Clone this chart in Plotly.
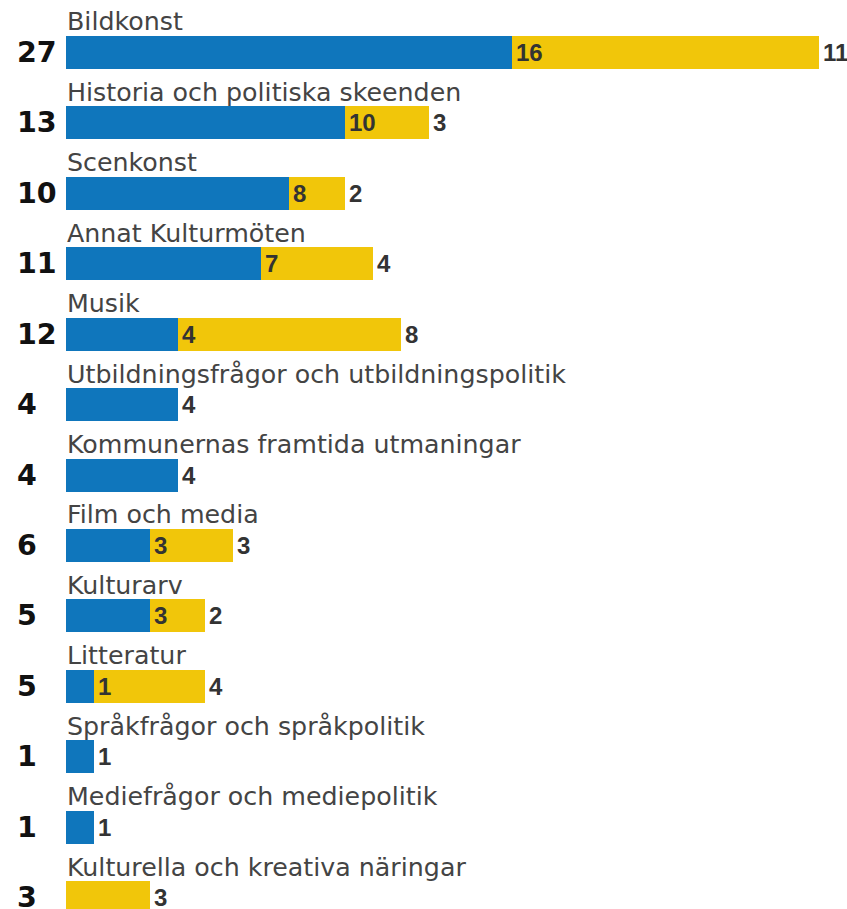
import plotly.graph_objects as go

categories = [
    "Bildkonst",
    "Historia och politiska skeenden",
    "Scenkonst",
    "Annat Kulturmöten",
    "Musik",
    "Utbildningsfrågor och utbildningspolitik",
    "Kommunernas framtida utmaningar",
    "Film och media",
    "Kulturarv",
    "Litteratur",
    "Språkfrågor och språkpolitik",
    "Mediefrågor och mediepolitik",
    "Kulturella och kreativa näringar",
]
blue_values = [16, 10, 8, 7, 4, 4, 4, 3, 3, 1, 1, 1, 0]
yellow_values = [11, 3, 2, 4, 8, 0, 0, 3, 2, 4, 0, 0, 3]

BLUE = "#0F76BC"
YELLOW = "#F1C60A"
FONT = "DejaVu Sans"
VAL_FONT = "Liberation Sans"

ypos = list(range(len(categories)))
totals = [b + y for b, y in zip(blue_values, yellow_values)]

fig = go.Figure()
fig.add_trace(go.Bar(y=ypos, x=blue_values, orientation="h", marker=dict(color=BLUE, line=dict(width=0)),
                     width=0.4686, hoverinfo="skip", showlegend=False))
fig.add_trace(go.Bar(y=ypos, x=yellow_values, orientation="h", marker=dict(color=YELLOW, line=dict(width=0)),
                     width=0.4686, hoverinfo="skip", showlegend=False))

annotations = []
for i, cat in enumerate(categories):
    # category label above bar
    annotations.append(dict(x=0, y=i - 0.435, xref="x", yref="y", text=cat, showarrow=False,
                            xanchor="left", yanchor="middle", xshift=-1,
                            font=dict(family=FONT, size=25.3, color="#444444")))
    # total on the left
    annotations.append(dict(x=0, y=i, xref="paper", yref="y", text=str(totals[i]), showarrow=False,
                            xanchor="left", yanchor="middle", xshift=-51,
                            font=dict(family=FONT, size=28.5, color="#111111", weight="bold")))
    if blue_values[i] > 0:
        annotations.append(dict(x=blue_values[i], y=i, xref="x", yref="y", text=str(blue_values[i]),
                                showarrow=False, xanchor="left", yanchor="middle", xshift=2,
                                font=dict(family=VAL_FONT, size=24, color="#333333", weight="bold")))
    if yellow_values[i] > 0:
        annotations.append(dict(x=totals[i], y=i, xref="x", yref="y", text=str(yellow_values[i]),
                                showarrow=False, xanchor="left", yanchor="middle", xshift=2,
                                font=dict(family=VAL_FONT, size=24, color="#333333", weight="bold")))

fig.update_layout(
    width=847, height=909,
    margin=dict(l=66, r=0, t=0, b=0, pad=0),
    barmode="stack", bargap=0,
    plot_bgcolor="white", paper_bgcolor="white",
    xaxis=dict(range=[0, 28.004], visible=False, fixedrange=True),
    yaxis=dict(range=[12.161, -0.7454], visible=False, fixedrange=True),
    annotations=annotations,
    font=dict(family=FONT),
    hovermode=False,
)

fig.write_html(
    "out.html",
    config={"displayModeBar": False, "staticPlot": True},
    post_script=(
        "document.body.style.margin='0';"
        "document.body.style.overflow='hidden';"
        "document.documentElement.style.overflow='hidden';"
    ),
)
